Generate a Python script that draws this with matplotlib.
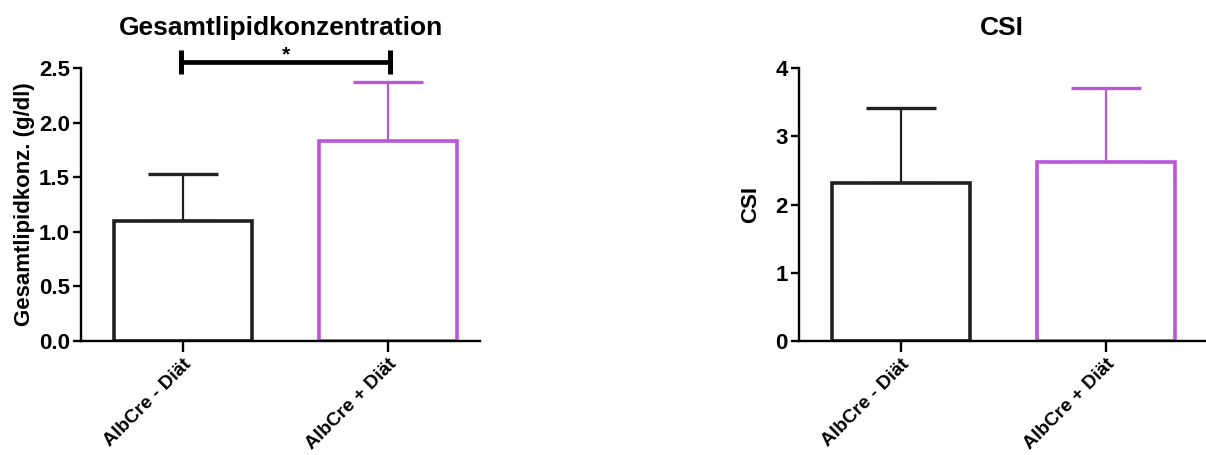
import matplotlib
matplotlib.use("Agg")
import matplotlib.pyplot as plt

plt.rcParams['font.family'] = ['Liberation Sans', 'DejaVu Sans']
plt.rcParams['font.weight'] = 'bold'

groups = ['AlbCre - Diät', 'AlbCre + Diät']
colors = ['#231f20', '#b957d8']

lipid_mean = [1.10, 1.83]
lipid_err = [0.43, 0.54]
csi_mean = [2.32, 2.63]
csi_err = [1.10, 1.08]

sig_y = 2.555
sig_label = '*'


def bar_panel(ax, means, errs, ylim, yticks, ylabel, title, fmt, xmax, lpad):
    x = range(len(means))
    for i in x:
        ax.bar(i, means[i], width=0.67, facecolor='white', edgecolor=colors[i],
               linewidth=2.6, zorder=2)
        ax.errorbar(i, means[i], yerr=[[0], [errs[i]]], fmt='none',
                    ecolor=colors[i], elinewidth=1.6, capsize=25, capthick=2.4,
                    zorder=1)
    ax.set_xlim(-0.4976, xmax)
    ax.set_ylim(*ylim)
    ax.set_yticks(yticks)
    ax.set_yticklabels([fmt.format(t) for t in yticks], fontsize=16, fontweight='bold')
    ax.set_xticks(list(x))
    ax.set_xticklabels(groups, rotation=45, ha='right', rotation_mode='anchor',
                       fontsize=13.8, fontweight='bold')
    ax.set_ylabel(ylabel, fontsize=16, fontweight='bold', labelpad=lpad)
    ax.set_title(title, fontsize=19, fontweight='bold', pad=24)
    for s in ['top', 'right']:
        ax.spines[s].set_visible(False)
    for s in ['left', 'bottom']:
        ax.spines[s].set_linewidth(1.7)
    ax.tick_params(axis='both', width=1.7, length=6, pad=2)
    ax.tick_params(axis='x', length=8, pad=2.5)


fig = plt.figure(figsize=(12.06, 4.55), dpi=100)
ax1 = fig.add_axes([0.0672, 0.2505, 0.331, 0.6])
ax2 = fig.add_axes([0.6625, 0.2505, 0.3367, 0.6])

bar_panel(ax1, lipid_mean, lipid_err, (0, 2.5), [0, 0.5, 1.0, 1.5, 2.0, 2.5],
          'Gesamtlipidkonz. (g/dl)', 'Gesamtlipidkonzentration', '{:.1f}', 1.449, 3)
bar_panel(ax2, csi_mean, csi_err, (0, 4), [0, 1, 2, 3, 4],
          'CSI', 'CSI', '{:.0f}', 1.483, 10)

# significance bracket
ax1.plot([-0.01, 1.01], [sig_y, sig_y], color='black', lw=3.4, clip_on=False,
         solid_capstyle='butt')
for xb in [-0.01, 1.01]:
    ax1.plot([xb, xb], [sig_y - 0.11, sig_y + 0.11], color='black', lw=3.6,
             clip_on=False, solid_capstyle='butt')
ax1.text(0.5, sig_y - 0.02, sig_label, ha='center', va='bottom', fontsize=15,
         fontweight='bold')

fig.savefig('out.png', dpi=100)
